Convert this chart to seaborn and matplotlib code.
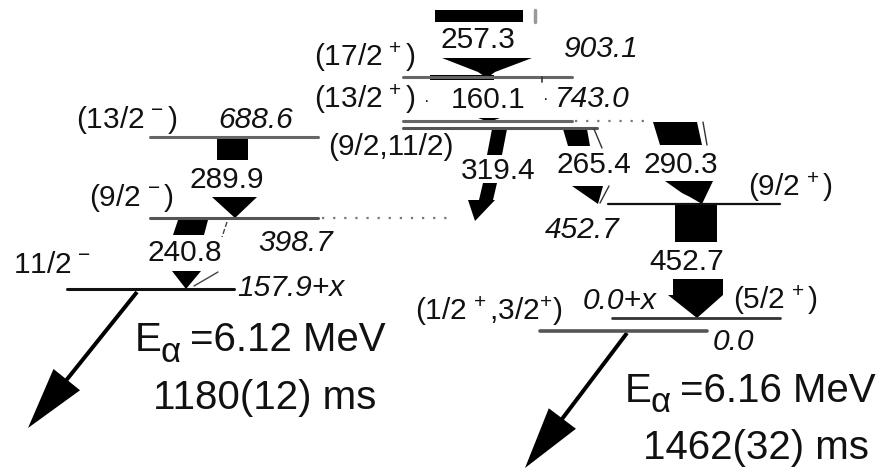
import matplotlib
matplotlib.use("Agg")
import matplotlib.pyplot as plt
from matplotlib.patches import Polygon
import seaborn as sns
import pandas as pd

# ---------------- data ----------------
level_energies = ["903.1", "743.0", "688.6", "398.7", "157.9+x", "452.7", "0.0+x", "0.0"]
level_spins = [r"(17/2$^{\,+}$)", r"(13/2$^{\,+}$)", r"(13/2$^{\,-}$)", r"(9/2$^{\,-}$)",
               r"11/2$^{\,-}$", r"(9/2$^{\,+}$)", r"(5/2$^{\,+}$)", r"(1/2$^{\,+}$,3/2$^{+}$)"]
extra_level_spin = "(9/2,11/2)"
gamma_energies = [257.3, 160.1, 289.9, 240.8, 319.4, 265.4, 290.3, 452.7]
alpha_energies = [6.12, 6.16]          # MeV
half_lives = ["1180(12)", "1462(32)"]  # ms

# ---------------- layout (pixel space) ----------------
lvl_layout = {
    "903.1":   (77, 403, 572, "#666666", 2.2),
    "743.0":   (121, 403, 572, "#666666", 2.2),
    "688.6":   (137, 150, 318, "#666666", 2.2),
    "398.7":   (218, 150, 318, "#555555", 2.2),
    "157.9+x": (289, 67, 234, "#111111", 2.2),
    "452.7":   (204, 608, 780, "#111111", 1.6),
    "0.0+x":   (318, 612, 780, "#333333", 2.0),
    "0.0":     (331, 540, 707, "#555555", 2.6),
    "(9/2,11/2)": (128, 403, 597, "#555555", 2.2),
}
dotted = [(121, 575, 645), (218, 322, 450)]

sns.set_theme(style="white")
plt.rcParams["font.family"] = ["Liberation Sans", "DejaVu Sans"]
plt.rcParams["mathtext.fontset"] = "custom"
plt.rcParams["mathtext.rm"] = "Liberation Sans"
plt.rcParams["mathtext.it"] = "Liberation Sans:italic"
plt.rcParams["mathtext.bf"] = "Liberation Sans:bold"

fig = plt.figure(figsize=(8.85, 4.72), dpi=100)
ax = fig.add_axes([0, 0, 1, 1])

rows = []
for name, (y, x0, x1, c, lw) in lvl_layout.items():
    rows.append(dict(x=x0, y=y, lvl=name))
    rows.append(dict(x=x1, y=y, lvl=name))
df = pd.DataFrame(rows)
for name, (y, x0, x1, c, lw) in lvl_layout.items():
    sns.lineplot(data=df[df.lvl == name], x="x", y="y", ax=ax, color=c, lw=lw,
                 estimator=None, sort=False, legend=False)
for y, x0, x1 in dotted:
    ax.plot([x0, x1], [y, y], color="#777777", lw=1.6, ls=(0, (1, 4)))
ax.set_xlim(0, 885)
ax.set_ylim(472, 0)
ax.axis("off")

k = "black"
shapes = [
    [(435, 10), (523, 10), (523, 22), (435, 22)],
    [(442, 58), (532, 58), (495, 72), (487, 78), (478, 72)],
    [(430, 75), (494, 75), (494, 80), (430, 80)],
    [(478, 118), (500, 118), (489, 122)],
    [(217, 138), (248, 138), (248, 160), (217, 160)],
    [(212, 197), (257, 197), (235, 218)],
    [(178, 220), (208, 220), (204, 235), (173, 235)],
    [(172, 271), (201, 271), (186, 289)],
    [(492, 129), (507, 129), (502, 155), (487, 155)],
    [(483, 183), (497, 183), (493, 200), (495, 200), (475, 221), (468, 200), (479, 200)],
    [(563, 129), (587, 129), (590, 146), (568, 146)],
    [(572, 186), (603, 186), (598, 204)],
    [(653, 122), (697, 122), (702, 145), (660, 145)],
    [(665, 181), (713, 181), (702, 204), (690, 197), (682, 193)],
    [(675, 205), (717, 205), (717, 242), (675, 242)],
    [(673, 279), (723, 279), (723, 295), (697, 318), (668, 295), (673, 295)],
]
for pts in shapes:
    ax.add_patch(Polygon(pts, closed=True, color=k, lw=0))

thin = [
    ((535, 10), (535, 22), "#999999", 2.5, "-"),
    ((542, 77), (542, 82), "#333333", 1.2, "-"),
    ((594, 129), (602, 148), "#333333", 1.0, "-"),
    ((609, 186), (600, 203), "#333333", 1.0, "-"),
    ((703, 122), (707, 145), "#333333", 1.0, "-"),
    ((227, 222), (222, 237), "#444444", 1.0, "--"),
    ((218, 272), (194, 286), "#444444", 1.0, "-"),
]
for (x0, y0), (x1, y1), c, lw, ls in thin:
    ax.plot([x0, x1], [y0, y1], color=c, lw=lw, ls=ls)

for (x0, y0), (x1, y1) in [((137, 292), (28, 428)), ((627, 333), (525, 468))]:
    ax.arrow(x0, y0, x1 - x0, y1 - y0, width=4, head_width=34, head_length=62,
             length_includes_head=True, color="black", lw=0)

fs = 21.5
def t(x, y, s, ha="center", italic=False, size=fs):
    ax.text(x, y, s, ha=ha, va="center", fontsize=size,
            style="italic" if italic else "normal", color="#111111")

g_pos = [(478, 40), (488, 100), (227, 180), (185, 253), (498, 171), (594, 165), (681, 165), (687, 262)]
for (x, y), e in zip(g_pos, gamma_energies):
    t(x, y, f"{e:.1f}")

e_pos = {"903.1": (601, 49, "center"), "743.0": (555, 99, "left"), "688.6": (256, 120, "center"),
         "398.7": (296, 243, "center"), "157.9+x": (237, 288, "left"), "452.7": (582, 230, "center"),
         "0.0+x": (583, 301, "left"), "0.0": (733, 342, "center")}
for e in level_energies:
    x, y, ha = e_pos[e]
    t(x, y, e, ha=ha, italic=True)
t(546, 99, "\u00b7", size=12)
t(427, 101, "\u00b7", size=12)

s_pos = [(365, 57), (365, 99), (127, 120), (131, 198), (52, 265), (790, 187), (775, 300), (489, 311)]
for (x, y), s in zip(s_pos, level_spins):
    t(x, y, s)
t(391, 147, extra_level_spin)

big = 29
for i, (ex, ey, hx, hy) in enumerate([(135, 340, 153, 398), (625, 391, 643, 448)]):
    ax.text(ex, ey, "E", ha="left", va="center", fontsize=big, color="#111111")
    ax.text(ex + 25, ey + 12, "\u03b1", ha="left", va="center", fontsize=25, color="#111111")
    ax.text(ex + 55, ey, f"={alpha_energies[i]:.2f} MeV", ha="left", va="center", fontsize=big, color="#111111")
    ax.text(hx, hy, f"{half_lives[i]} ms", ha="left", va="center", fontsize=big, color="#111111")

fig.savefig("out.png", dpi=100)
